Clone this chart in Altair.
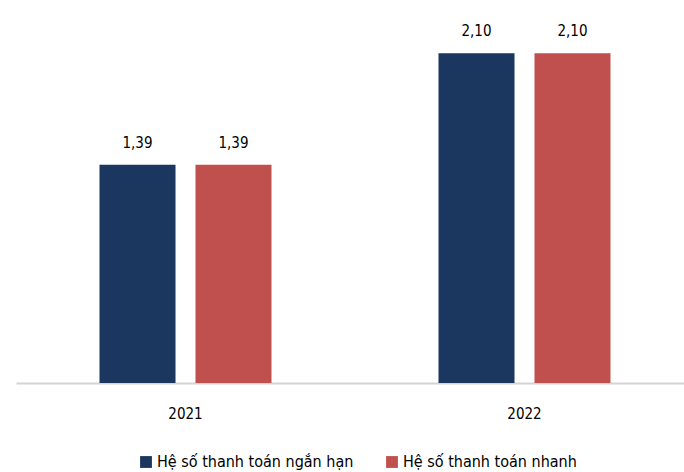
import altair as alt
import pandas as pd

years = ["2021", "2021", "2022", "2022"]
series = ["Hệ số thanh toán ngắn hạn", "Hệ số thanh toán nhanh",
          "Hệ số thanh toán ngắn hạn", "Hệ số thanh toán nhanh"]
values = [1.39, 1.39, 2.10, 2.10]
series_order = ["Hệ số thanh toán ngắn hạn", "Hệ số thanh toán nhanh"]
colors = ["#1b3760", "#c0504d"]

df = pd.DataFrame({"year": years, "series": series, "value": values})

FONT = "DejaVu Sans Condensed"

base = alt.Chart(df).transform_calculate(
    label="replace(format(datum.value, '.2f'), '.', ',')"
).encode(
    x=alt.X("year:N", title=None,
            scale=alt.Scale(range=[0, 678], paddingInner=0, paddingOuter=0),
            axis=alt.Axis(labelAngle=0, labelFontSize=15, labelFont=FONT,
                          labelColor="#000000", labelPadding=23, ticks=False,
                          domainColor="#d4d4d4", domainWidth=2)),
    xOffset=alt.XOffset("series:N", sort=series_order,
                        scale=alt.Scale(paddingInner=0.208, paddingOuter=0.87)),
)

bars = base.mark_bar().encode(
    y=alt.Y("value:Q", scale=alt.Scale(domain=[0, 2.4], nice=False), axis=None),
    color=alt.Color("series:N", sort=series_order,
                    scale=alt.Scale(domain=series_order, range=colors),
                    legend=alt.Legend(title=None, orient="none", direction="horizontal",
                                      legendX=122, legendY=448, symbolType="square",
                                      symbolSize=140, symbolStrokeWidth=0,
                                      labelFont=FONT, labelFontSize=16,
                                      labelColor="#000000", columnPadding=30,
                                      labelOffset=3, labelLimit=400)),
)

labels = base.mark_text(dy=-22, fontSize=15, font=FONT, color="#000000").encode(
    y=alt.Y("value:Q"),
    text="label:N",
)

chart = (bars + labels).properties(
    width=668, height=377,
    autosize=alt.AutoSizeParams(type="none"),
    padding={"left": 16, "top": 6, "right": 0, "bottom": 89},
).configure_view(stroke=None).configure_axis(grid=False)

chart.save("out.html", embed_options={"renderer": "svg", "actions": False})
